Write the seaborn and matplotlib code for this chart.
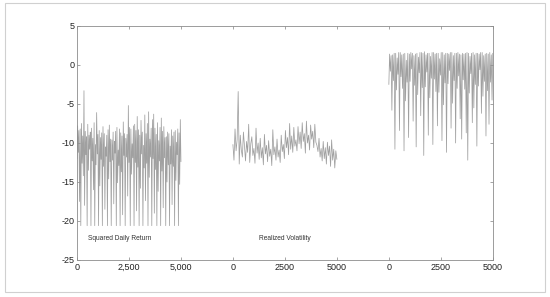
import numpy as np
import pandas as pd
import seaborn as sns
import matplotlib
matplotlib.use("Agg")
import matplotlib.pyplot as plt
from matplotlib.patches import Rectangle

# log squared daily return, log realized volatility, third panel
squared_return = [-12.0, -7.8, -11.2, -8.4, -17.5, -8.2, -20.6, -7.5, -12.6, -9.1, -14.2, -3.3,
                  -18.0, -8.5, -11.5, -9.2, -20.6, -7.6, -13.5, -9.0, -10.8, -8.6, -20.6, -8.1,
                  -12.3, -9.4, -16.0, -7.4, -20.6, -10.2, -12.8, -6.1, -11.4, -8.9, -20.6, -8.4,
                  -15.5, -9.3, -12.1, -8.7, -20.6, -7.9, -13.0, -8.8, -18.5, -10.5, -11.7, -9.0,
                  -20.6, -8.3, -14.6, -7.7, -12.4, -9.5, -20.6, -9.6, -12.2, -8.6, -17.8, -9.8,
                  -11.3, -8.5, -20.6, -8.0, -15.1, -10.9, -12.9, -8.2, -20.6, -8.7, -13.7, -9.1,
                  -19.2, -7.3, -11.6, -8.8, -20.6, -9.4, -11.8, -8.9, -16.8, -5.2, -12.5, -8.0,
                  -20.6, -8.2, -14.0, -10.1, -11.9, -7.8, -20.6, -7.6, -12.5, -8.4, -18.7, -6.6,
                  -13.1, -8.3, -20.6, -9.0, -15.8, -7.1, -11.4, -8.6, -20.6, -10.3, -13.2, -6.4,
                  -17.4, -8.8, -12.6, -7.5, -20.6, -6.0, -14.4, -9.5, -11.8, -8.1, -20.6, -7.0,
                  -12.0, -6.3, -19.0, -8.1, -13.4, -8.9, -20.6, -7.4, -16.2, -9.7, -12.3, -8.0,
                  -20.6, -6.8, -13.6, -8.5, -18.3, -7.9, -11.9, -9.3, -20.6, -9.2, -15.0, -8.6,
                  -12.8, -8.8, -20.6, -10.4, -12.7, -8.3, -17.9, -9.1, -13.0, -8.6, -20.6, -8.4,
                  -14.8, -9.9, -11.5, -8.2, -20.6, -8.7, -15.3, -7.0, -12.4]

realized_vol = [-10.2, -12.2, -8.2, -11.0, -9.6, -3.4, -12.7, -9.0, -10.9, -11.8, -8.6, -10.4,
                -12.3, -9.8, -11.2, -7.6, -12.5, -10.1, -9.2, -11.6, -10.7, -12.6, -8.1, -11.3,
                -10.0, -12.1, -9.4, -11.9, -10.6, -12.8, -8.9, -11.4, -10.3, -12.4, -9.7, -11.7,
                -10.8, -12.9, -8.3, -11.5, -10.5, -12.2, -9.5, -11.8, -10.9, -12.5, -9.0, -11.1,
                -10.2, -12.0, -8.4, -10.6, -9.3, -11.5, -7.5, -10.8, -9.1, -11.2, -8.0, -10.4,
                -9.6, -11.0, -7.9, -10.1, -8.6, -10.7, -7.4, -9.8, -8.8, -11.3, -7.2, -10.0,
                -9.0, -10.9, -7.7, -9.5, -8.5, -10.6, -7.6, -9.9, -10.3, -11.1, -9.4, -11.8,
                -10.7, -12.3, -9.8, -12.0, -10.6, -12.7, -9.9, -11.6, -10.4, -13.0, -9.6, -12.2,
                -10.8, -13.2, -11.0, -12.1]

third_series = [-2.5, 1.4, -0.8, 1.2, -5.8, 1.3, -2.0, 1.5, -10.8, 1.5, -3.2, 0.9, -1.2, 1.6,
                -8.4, 1.6, -1.5, 1.3, -3.0, 1.4, -11.0, 1.5, -4.6, 0.6, -2.2, 1.5, -9.3, 1.4,
                -2.1, 1.6, -0.5, 1.5, -7.2, 1.2, -2.6, 1.4, -10.5, 1.5, -3.8, 1.0, -1.0, 1.6,
                -6.5, 1.6, -2.9, 1.5, -11.6, 1.7, -2.8, 1.3, -0.9, 1.5, -9.0, 1.5, -4.2, 1.1,
                -1.7, 1.6, -10.2, 1.6, -1.8, 1.4, -3.4, 1.5, -7.8, 1.5, -3.5, 0.8, -1.3, 1.6,
                -9.7, 1.6, -5.1, 1.3, -2.3, 1.5, -11.2, 1.5, -2.4, 1.4, -0.7, 1.6, -8.1, 1.6,
                -4.9, 1.2, -2.0, 1.5, -10.0, 1.5, -3.0, 1.6, -1.4, 1.4, -6.9, 1.3, -9.5, 1.5,
                -1.9, 1.4, -3.1, 1.5, -8.7, 1.6, -12.2, 1.5, -3.6, 1.1, -1.1, 1.5, -7.4, 1.6,
                -5.5, 1.3, -2.5, 1.5, -10.4, 1.5, -2.7, 1.4, -0.6, 1.6, -6.2, 1.6, -4.0, 1.2,
                -2.1, 1.4, -9.1, 1.5, -3.3, 1.4, -7.6, 1.6, -2.2, 1.3, -4.5, 1.5]

panel_names = ["Squared Daily Return", "Realized Volatility", ""]
panel_offsets = [0, 7500, 15000]
tick_pos = [0, 2500, 5000, 7500, 10000, 12500, 15000, 17500, 20000]
tick_labels = ["0", "2,500", "5,000", "0", "2500", "5000", "0", "2500", "5000"]
y_ticks = [-25, -20, -15, -10, -5, 0, 5]

sns.set_theme(style="ticks")
plt.rcParams["font.family"] = ["Liberation Sans", "DejaVu Sans"]
plt.rcParams["axes.unicode_minus"] = False

fig = plt.figure(figsize=(5.5, 2.97), dpi=100)
fig.patches.append(Rectangle((0.009, 0.017), 0.982, 0.972, transform=fig.transFigure,
                             fill=False, edgecolor="#d0d0d0", linewidth=0.8))
ax = fig.add_axes([0.14, 0.1246, 0.756, 0.7879])

frames = []
for vals, off, name in zip([squared_return, realized_vol, third_series], panel_offsets, panel_names):
    days = np.linspace(0, 5000, len(vals))
    frames.append(pd.DataFrame({"x": days + off, "y": vals, "series": name or "third"}))

for df in frames:
    sns.lineplot(data=df, x="x", y="y", ax=ax, color="#8f8f8f", linewidth=0.55,
                 estimator=None, sort=False, alpha=0.85)

ax.text(550, -22.3, panel_names[0], fontsize=4.8, color="#333333", va="center")
ax.text(10000, -22.3, panel_names[1], fontsize=4.8, color="#333333", va="center", ha="center")

ax.set_xlim(0, 20000)
ax.set_ylim(-25, 5)
ax.set_xticks(tick_pos)
ax.set_xticklabels(tick_labels)
ax.set_yticks(y_ticks)
ax.set_xlabel("")
ax.set_ylabel("")
ax.tick_params(direction="in", length=2.5, width=0.5, color="#808080", labelsize=6.5,
               labelcolor="#222222", top=True, right=True, pad=2)
for sp in ax.spines.values():
    sp.set_color("#8c8c8c")
    sp.set_linewidth(0.6)

fig.savefig("out.png", dpi=100)
